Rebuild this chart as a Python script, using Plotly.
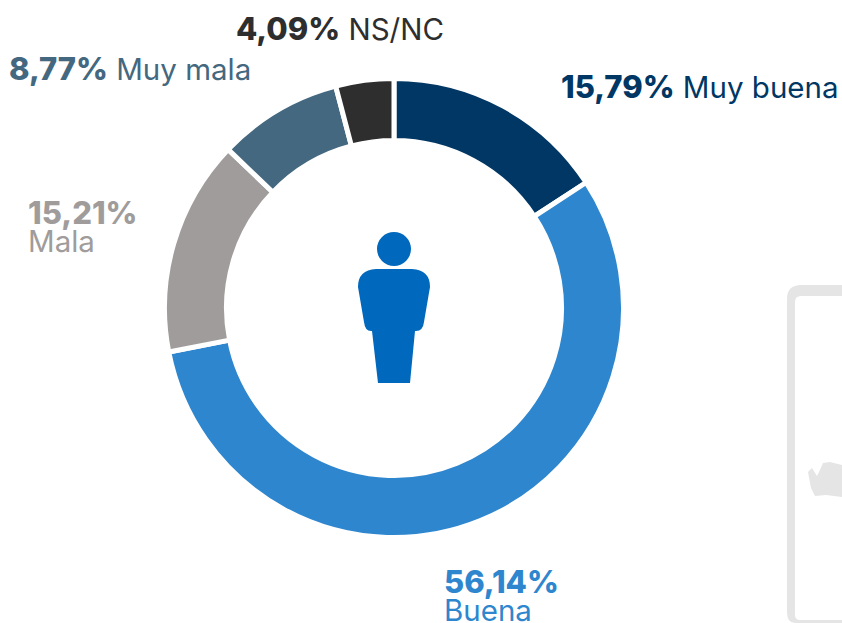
import plotly.graph_objects as go

categories = ["Muy buena", "Buena", "Mala", "Muy mala", "NS/NC"]
values = [15.79, 56.14, 15.21, 8.77, 4.09]
value_labels = ["15,79%", "56,14%", "15,21%", "8,77%", "4,09%"]
colors = ["#003764", "#2E86CE", "#A09C9B", "#44687F", "#2E2E2E"]

W, H = 842, 623
FONT = "Inter"
def px(x): return x / W
def py(y): return 1 - y / H
def path(points, close=True):
    s = ""
    for cmd, *c in points:
        s += cmd
        s += " ".join(f"{px(c[i]):.5f},{py(c[i+1]):.5f}" for i in range(0, len(c), 2)) + " "
    return s + ("Z" if close else "")
def num(t):
    return f'<span style="font-size:31px;font-weight:800">{t}</span>'

fig = go.Figure(go.Pie(
    labels=categories, values=values, sort=False, direction="clockwise", rotation=0,
    hole=0.73, textinfo="none", showlegend=False,
    marker=dict(colors=colors, line=dict(color="white", width=5)),
    domain=dict(x=[px(164.5), px(623.5)], y=[py(537.5), py(78.5)]),
))

ICON = "#0068BD"
GREY = "#E5E5E5"
shapes = [
    dict(type="circle", xref="paper", yref="paper", x0=px(377), x1=px(411), y0=py(266), y1=py(232),
         fillcolor=ICON, line_width=0),
    dict(type="path", xref="paper", yref="paper", fillcolor=ICON, line_width=0, path=path([
        ("M", 376, 269), ("L", 412, 269), ("Q", 430, 270, 430, 287), ("L", 424, 322),
        ("Q", 423, 331, 416, 331), ("L", 415, 331), ("L", 410, 383), ("L", 378, 383),
        ("L", 372, 331), ("L", 371, 331), ("Q", 365, 331, 364, 322), ("L", 358, 287),
        ("Q", 358, 270, 376, 269)])),
    dict(type="path", xref="paper", yref="paper", fillcolor=GREY, line_width=0, path=path([
        ("M", 842, 285), ("L", 801, 285), ("Q", 787, 285, 787, 299), ("L", 787, 612),
        ("Q", 787, 623, 795, 623), ("L", 842, 623), ("L", 842, 620), ("L", 800, 620),
        ("Q", 795, 620, 795, 615), ("L", 795, 302), ("Q", 795, 296, 801, 296), ("L", 842, 296)])),
    dict(type="path", xref="paper", yref="paper", fillcolor=GREY, line_width=0, path=path([
        ("M", 808, 472), ("L", 812, 468), ("L", 817, 476), ("L", 820, 470), ("L", 823, 463),
        ("L", 830, 462), ("L", 842, 465), ("L", 842, 497), ("L", 826, 495), ("L", 815, 496),
        ("L", 811, 488)])),
]

annots = [
    (561, 87, f"{num(value_labels[0])} {categories[0]}", colors[0]),
    (444, 581, num(value_labels[1]), colors[1]),
    (444, 610, categories[1], colors[1]),
    (28, 212, num(value_labels[2]), colors[2]),
    (28, 241, categories[2], colors[2]),
    (9, 69, f"{num(value_labels[3])} {categories[3]}", colors[3]),
    (236, 29, f"{num(value_labels[4])} {categories[4]}", colors[4]),
]
annotations = [dict(x=px(x), y=py(y), xref="paper", yref="paper", text=t, showarrow=False,
                    xanchor="left", yanchor="middle", xshift=-2,
                    font=dict(family=FONT, size=29.5, color=c))
               for x, y, t, c in annots]

fig.update_layout(width=W, height=H, margin=dict(l=0, r=0, t=0, b=0), paper_bgcolor="white",
                  shapes=shapes, annotations=annotations)
fig.write_html("out.html", config={"displayModeBar": False},
               post_script="document.body.style.margin='0';document.body.style.overflow='hidden';")
